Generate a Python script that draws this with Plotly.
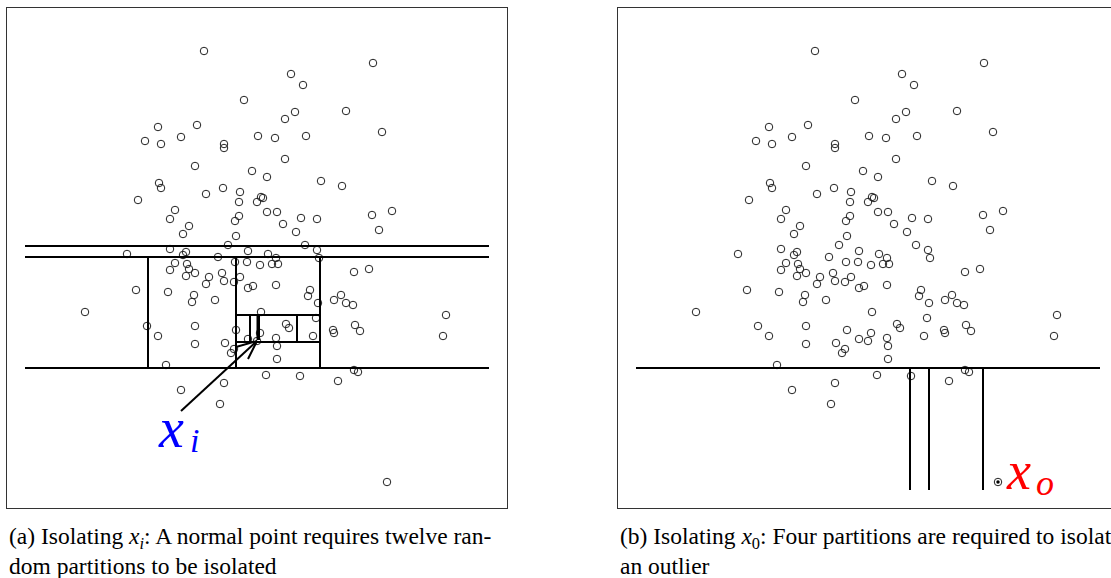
import plotly.graph_objects as go

# ---------------- data (panel units: 0..500 in both directions, y up) ----------------
pts_x = [197, 237, 151, 190, 138, 154, 174, 217, 217, 251, 188, 245, 152, 154, 131, 199, 216, 233, 232, 250,
         168, 163, 232, 228, 182, 176, 229, 221, 163, 179, 176, 241, 120, 211, 366, 284, 296, 288, 278, 339,
         268, 299, 375, 278, 260, 314, 335, 254, 256, 260, 270, 294, 310, 276, 289, 365, 385, 372, 298, 310,
         261, 269, 312, 265, 271, 253, 168, 163, 180, 182, 179, 188, 228, 240, 215, 217, 202, 199, 227, 233,
         241, 246, 269, 129, 161, 187, 185, 208, 303, 301, 311, 347, 362, 327, 334, 339, 346, 254, 78, 439,
         309, 279, 282, 348, 353, 326, 327, 436, 253, 306, 269, 270, 270, 140, 188, 151, 229, 188, 218, 241,
         227, 224, 159, 250, 347, 351, 259, 293, 331, 217, 174, 213]
pts_y = [457, 408, 381, 383, 367, 364, 371, 364, 360, 372, 342, 337, 325, 320, 308, 314, 320, 316, 306, 306,
         298, 289, 292, 287, 282, 274, 272, 263, 259, 256, 253, 257, 254, 251, 445, 434, 423, 396, 389, 397,
         370, 372, 376, 349, 331, 327, 322, 311, 310, 296, 296, 290, 289, 284, 276, 293, 297, 278, 263, 258,
         254, 250, 250, 244, 244, 243, 245, 238, 244, 239, 232, 235, 246, 246, 235, 227, 231, 224, 226, 231,
         220, 222, 223, 218, 216, 213, 206, 208, 218, 212, 205, 236, 239, 208, 213, 205, 203, 196, 196, 193,
         190, 184, 180, 183, 177, 178, 175, 172, 175, 172, 170, 162, 149, 182, 182, 172, 178, 164, 165, 169,
         159, 155, 143, 167, 138, 136, 133, 132, 127, 125, 118, 104]
outlier_x = [380]
outlier_y = [26]

# partition cuts of panel (a): (x0, x1, y0, y1)
cuts_a = [
    (18, 482, 262, 262), (18, 482, 251, 251), (18, 482, 140, 140),
    (141, 141, 140, 251), (229, 229, 140, 251), (313, 313, 140, 251),
    (229, 313, 193, 193), (229, 313, 166, 166),
    (290, 290, 166, 193), (243, 243, 166, 193), (250.5, 250.5, 168, 193), (252, 252, 168, 193),
]
# partition cuts of panel (b)
cuts_b = [
    (18, 482, 140, 140),
    (292, 292, 18, 140), (311, 311, 18, 140), (365, 365, 18, 140),
]
# pointer to x_i: tail, tip, head barbs
arrow_x = [174, 250, None, 229, 250, 241]
arrow_y = [97, 167, None, 161, 167, 149]

label_a = dict(x=164, y=80, sub_x=187, sub_y=68)
label_b = dict(x=400, y=37, sub_x=427, sub_y=25)

caption_a = ["(a) Isolating <i>x</i><sub><i>i</i></sub>: A normal point requires twelve ran-",
             "dom partitions to be isolated"]
caption_b = ["(b) Isolating <i>x</i><sub>0</sub>: Four partitions are required to isolate",
             "an outlier"]

W, H = 1111, 578


def seg_xy(segs):
    xs, ys = [], []
    for x0, x1, y0, y1 in segs:
        xs += [x0, x1, None]
        ys += [y0, y1, None]
    return xs, ys


fig = go.Figure()
marker = dict(symbol="circle-open", size=7.5, color="#222", line=dict(width=1))

# panel (a)
fig.add_trace(go.Scatter(x=pts_x + outlier_x, y=pts_y + outlier_y, mode="markers",
                         marker=marker, xaxis="x", yaxis="y", hoverinfo="skip"))
ax_, ay_ = seg_xy(cuts_a)
fig.add_trace(go.Scatter(x=ax_, y=ay_, mode="lines", line=dict(color="black", width=2),
                         xaxis="x", yaxis="y", hoverinfo="skip"))
fig.add_trace(go.Scatter(x=arrow_x, y=arrow_y, mode="lines", line=dict(color="black", width=2),
                         xaxis="x", yaxis="y", hoverinfo="skip"))

# panel (b)
fig.add_trace(go.Scatter(x=pts_x + outlier_x, y=pts_y + outlier_y, mode="markers",
                         marker=marker, xaxis="x2", yaxis="y2", hoverinfo="skip"))
fig.add_trace(go.Scatter(x=outlier_x, y=outlier_y, mode="markers",
                         marker=dict(symbol="circle", size=3.5, color="black"),
                         xaxis="x2", yaxis="y2", hoverinfo="skip"))
bx_, by_ = seg_xy(cuts_b)
fig.add_trace(go.Scatter(x=bx_, y=by_, mode="lines", line=dict(color="black", width=2),
                         xaxis="x2", yaxis="y2", hoverinfo="skip"))

serif = "Liberation Serif"

axis_common = dict(showgrid=False, zeroline=False, showticklabels=False, ticks="",
                   showline=True, linecolor="#333", linewidth=1, fixedrange=True)
ydom = [1 - 508 / H, 1 - 8 / H]
fig.update_layout(
    template="none",
    width=W, height=H, margin=dict(l=0, r=0, t=0, b=0),
    paper_bgcolor="white", plot_bgcolor="white", showlegend=False,
    font=dict(family=serif),
    xaxis=dict(domain=[7 / W, 507 / W], range=[0, 500], mirror=True, **axis_common),
    yaxis=dict(domain=ydom, range=[0, 500], mirror=True, **axis_common),
    xaxis2=dict(domain=[618 / W, 1], range=[0, W - 618], mirror=True, anchor="y2", **axis_common),
    yaxis2=dict(domain=ydom, range=[0, 500], mirror=False, anchor="x2", **axis_common),
)

ann = [
    dict(x=label_a["x"], y=label_a["y"], xref="x", yref="y", text="<i>x</i>", showarrow=False,
         font=dict(family=serif, size=56, color="#0000ff")),
    dict(x=label_a["sub_x"], y=label_a["sub_y"], xref="x", yref="y", text="<i>i</i>", showarrow=False,
         font=dict(family=serif, size=34, color="#0000ff")),
    dict(x=label_b["x"], y=label_b["y"], xref="x2", yref="y2", text="<i>x</i>", showarrow=False,
         font=dict(family=serif, size=54, color="#ff0000")),
    dict(x=label_b["sub_x"], y=label_b["sub_y"], xref="x2", yref="y2", text="<i>o</i>", showarrow=False,
         font=dict(family=serif, size=36, color="#ff0000")),
]
for x0, cap in ((7, caption_a), (618, caption_b)):
    for i, line in enumerate(cap):
        ann.append(dict(x=x0 / W, y=1 - (538 + 28 * i) / H, xref="paper", yref="paper", xanchor="left",
                        yanchor="middle", text=line, showarrow=False,
                        font=dict(family=serif, size=23.5, color="black")))
fig.update_layout(annotations=ann)

fig.write_html("out.html", config={"displayModeBar": False},
               post_script="document.body.style.margin='0';document.body.style.overflow='hidden';")
